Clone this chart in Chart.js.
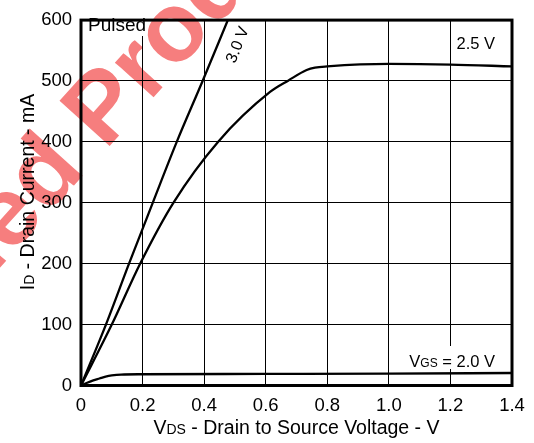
<!DOCTYPE html>
<html>
<head>
    <title>Drain Current vs Drain to Source Voltage</title>
    <script src="https://cdn.jsdelivr.net/npm/chart.js"></script>
    <style>
        body { margin: 0; background: #fff; }
    </style>
</head>
<body>
    <canvas id="myChart" width="534" height="443"></canvas>

    <script>
        // values (V in volts, I in mA)
        const vds30 = [0, 0.081, 0.156, 0.233, 0.311, 0.395, 0.477];
        const id30 = [0, 100, 200, 300, 400, 500, 600];

        const vds25 = [0, 0.10, 0.192, 0.30, 0.445, 0.614, 0.674, 0.733, 0.76, 0.80, 1.0, 1.2, 1.4];
        const id25 = [0, 100, 200, 300, 400, 482, 501, 518, 522, 524, 528, 527, 524];

        const vds20 = [0, 0.02, 0.04, 0.06, 0.08, 0.10, 0.13, 0.2, 0.6, 1.0, 1.4];
        const id20 = [0, 4.5, 8.5, 11.5, 14.5, 16.5, 18, 18.5, 19, 19.5, 20.5];

        const xTicks = [0, 0.2, 0.4, 0.6, 0.8, 1.0, 1.2, 1.4];
        const yTicks = [0, 100, 200, 300, 400, 500, 600];

        const FONT = "'Liberation Sans', Arial, Helvetica, sans-serif";

        function toPoints(xs, ys) {
            return xs.map((x, i) => ({ x: x, y: ys[i] }));
        }

        // text with small same-baseline subscripts, e.g. V + DS
        function drawRich(ctx, parts, x, y, align) {
            let total = 0;
            parts.forEach(p => {
                ctx.font = p.size + 'px ' + FONT;
                p.w = ctx.measureText(p.t).width;
                total += p.w;
            });
            let cx = x;
            if (align === 'center') cx = x - total / 2;
            if (align === 'right') cx = x - total;
            ctx.textAlign = 'left';
            ctx.textBaseline = 'alphabetic';
            parts.forEach(p => {
                ctx.font = p.size + 'px ' + FONT;
                ctx.fillText(p.t, cx, y);
                cx += p.w;
            });
        }

        const annotations = {
            id: 'annotations',
            beforeDatasetsDraw(chart) {
                const ctx = chart.ctx;
                ctx.save();
                ctx.fillStyle = '#fff';
                ctx.fillRect(84, 11, 66, 25);
                ctx.fillRect(408, 346, 90, 23);
                ctx.fillStyle = '#000';
                drawRich(ctx, [{ t: 'Pulsed', size: 19 }], 88, 31, 'left');
                drawRich(ctx, [{ t: '2.5 V', size: 16.5 }], 495, 49, 'right');
                drawRich(ctx, [{ t: 'V', size: 16.5 }, { t: 'GS', size: 12 }, { t: ' = 2.0 V', size: 16.5 }], 495, 367, 'right');
                ctx.translate(238, 45);
                ctx.rotate(-68 * Math.PI / 180);
                ctx.font = '16px ' + FONT;
                ctx.textAlign = 'center';
                ctx.textBaseline = 'middle';
                ctx.fillText('3.0 V', 0, 0);
                ctx.restore();
            },
            afterDatasetsDraw(chart) {
                const a = chart.chartArea;
                const ctx = chart.ctx;
                ctx.save();
                ctx.strokeStyle = '#000';
                ctx.lineWidth = 3;
                ctx.strokeRect(a.left, a.top, a.right - a.left, a.bottom - a.top);
                ctx.restore();
            },
            afterDraw(chart) {
                const a = chart.chartArea;
                const ctx = chart.ctx;
                ctx.save();
                ctx.fillStyle = '#000';
                drawRich(ctx, [{ t: 'V', size: 19.5 }, { t: 'DS', size: 14 }, { t: ' - Drain to Source Voltage - V', size: 19.5 }],
                    (a.left + a.right) / 2, 434, 'center');
                ctx.translate(34, 192);
                ctx.rotate(-Math.PI / 2);
                drawRich(ctx, [{ t: 'I', size: 19.5 }, { t: 'D', size: 14 }, { t: ' - Drain Current - mA', size: 19.5 }], 0, 0, 'center');
                ctx.restore();

                // watermark
                const wm = 'Discontinued Product';
                const size = 98;
                ctx.save();
                ctx.globalCompositeOperation = 'multiply';
                ctx.fillStyle = 'rgb(246, 126, 126)';
                ctx.font = 'bold ' + size + 'px ' + FONT;
                const pre = ctx.measureText('Discontinued ').width;
                const pw = ctx.measureText('P').width;
                ctx.translate(101, 103);
                ctx.rotate(-48 * Math.PI / 180);
                ctx.textAlign = 'left';
                ctx.textBaseline = 'alphabetic';
                ctx.fillText(wm, -(pre + pw / 2), 0.358 * size);
                ctx.restore();
            }
        };

        const tickFont = { family: FONT, size: 18.5 };

        new Chart(document.getElementById('myChart'), {
            type: 'line',
            data: {
                datasets: [
                    { label: '3.0 V', data: toPoints(vds30, id30) },
                    { label: '2.5 V', data: toPoints(vds25, id25) },
                    { label: 'VGS = 2.0 V', data: toPoints(vds20, id20) }
                ].map(d => Object.assign(d, {
                    borderColor: '#000',
                    borderWidth: 2.3,
                    pointRadius: 0,
                    fill: false,
                    cubicInterpolationMode: 'monotone'
                }))
            },
            options: {
                responsive: false,
                animation: false,
                layout: { padding: { top: 9, right: 22, bottom: 0, left: 0 } },
                plugins: {
                    legend: { display: false },
                    tooltip: { enabled: false }
                },
                scales: {
                    x: {
                        type: 'linear',
                        min: 0,
                        max: 1.4,
                        afterBuildTicks: s => { s.ticks = xTicks.map(v => ({ value: v })); },
                        afterFit: s => { s.height = 57.5; },
                        ticks: {
                            color: '#000',
                            font: tickFont,
                            padding: 9,
                            maxRotation: 0,
                            callback: v => v === 0 ? '0' : v.toFixed(1)
                        },
                        grid: { color: '#000', lineWidth: 1, drawTicks: false, tickLength: 0 },
                        border: { display: false }
                    },
                    y: {
                        min: 0,
                        max: 600,
                        afterBuildTicks: s => { s.ticks = yTicks.map(v => ({ value: v })); },
                        afterFit: s => { s.width = 81; },
                        ticks: { color: '#000', font: tickFont, padding: 9 },
                        grid: { color: '#000', lineWidth: 1, drawTicks: false, tickLength: 0 },
                        border: { display: false }
                    }
                }
            },
            plugins: [annotations]
        });
    </script>
</body>
</html>
